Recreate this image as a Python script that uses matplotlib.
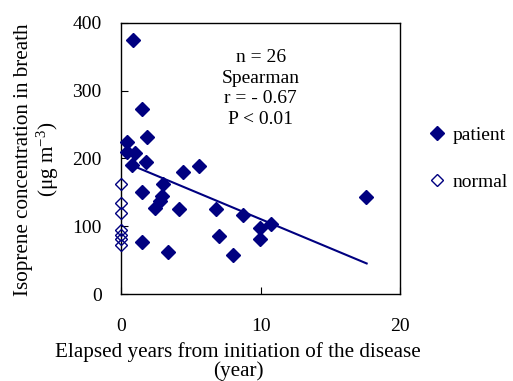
import matplotlib.pyplot as plt

plt.rcParams['font.family'] = ['Liberation Serif', 'DejaVu Serif']
plt.rcParams['mathtext.fontset'] = 'custom'
plt.rcParams['mathtext.rm'] = 'Liberation Serif'
plt.rcParams['mathtext.it'] = 'Liberation Serif:italic'

# patient data: elapsed years vs isoprene (ug m-3)
patient_years = [0.86, 1.48, 1.84, 0.41, 0.41, 1.0, 1.77, 0.76, 4.47, 5.59,
                 2.98, 1.48, 2.91, 2.8, 2.46, 4.18, 6.81, 8.77, 9.96, 10.73,
                 9.96, 7.05, 8.0, 1.48, 3.39, 17.56]
patient_iso = [375, 273, 231, 224, 210, 208, 195, 190, 180, 189,
               163, 150, 144, 138, 127, 125, 126, 117, 98, 103,
               81, 85, 58, 77, 62, 143]

normal_years = [0, 0, 0, 0, 0, 0, 0]
normal_iso = [163, 134, 119, 94, 87, 82, 72]

# regression line
fit_slope = -8.6
fit_intercept = 196.6
fit_x = [0.88, 17.6]

fig = plt.figure(figsize=(5.13, 3.81), dpi=100)
ax = fig.add_axes([0.236, 0.228, 0.544, 0.712])

navy = '#000080'
ax.plot(fit_x, [fit_intercept + fit_slope * x for x in fit_x], color=navy, lw=1.5, zorder=2)
ax.plot(patient_years, patient_iso, 'D', color=navy, ms=6.8, ls='none',
        label='patient', clip_on=False, zorder=3)
ax.plot(normal_years, normal_iso, 'D', mfc='none', mec=navy, mew=1.0, ms=6.6,
        ls='none', label='normal', clip_on=False, zorder=3)

ax.set_xlim(0, 20)
ax.set_ylim(0, 400)
ax.set_xticks([0, 10, 20])
ax.set_yticks([0, 100, 200, 300, 400])
ax.tick_params(direction='in', labelsize=14, length=5)
ax.tick_params(axis='y', pad=14)
ax.tick_params(axis='x', pad=17)
for s in ax.spines.values():
    s.set_linewidth(1.0)

ax.text(10, 303, 'n = 26\nSpearman\nr = - 0.67\nP < 0.01', ha='center', va='center',
        fontsize=14, linespacing=1.28)

ax.set_xlabel('Elapsed years from initiation of the disease\n(year)', fontsize=15.2,
              linespacing=0.95)
ax.xaxis.set_label_coords(0.42, -0.175)
ax.set_ylabel('Isoprene concentration in breath\n(\u03bcg m$^{-3}$)', fontsize=15.2,
              linespacing=1.1)
ax.yaxis.set_label_coords(-0.215, 0.495)

ax.legend(loc='center left', bbox_to_anchor=(1.034, 0.5), frameon=False, fontsize=14,
          handletextpad=0.3, labelspacing=1.5, handlelength=1.0)

fig.savefig('out.png', dpi=100)
